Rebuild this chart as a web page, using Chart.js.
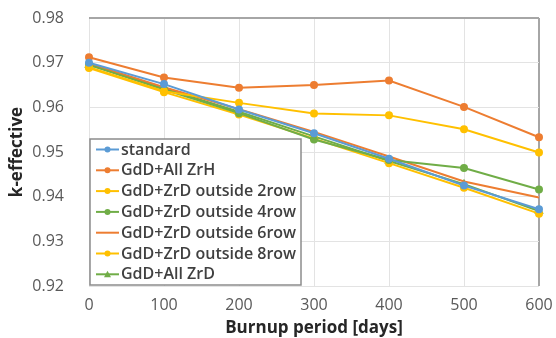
<!DOCTYPE html>
<html>
<head>
<meta charset="utf-8">
<script src="https://cdn.jsdelivr.net/npm/chart.js@4"></script>
<style>
  html, body { margin: 0; padding: 0; background: #fff; }
  #wrap { width: 556px; height: 338px; position: relative; }
</style>
</head>
<body>
<div id="wrap"><canvas id="keff"></canvas></div>
<script>
const days = [0, 100, 200, 300, 400, 500, 600];

const standard   = [0.9700, 0.9652, 0.9595, 0.9542, 0.9485, 0.9425, 0.9372];
const allZrH     = [0.9712, 0.9667, 0.9644, 0.9650, 0.9660, 0.9601, 0.9533];
const outside2   = [0.9690, 0.9636, 0.9610, 0.9586, 0.9582, 0.9551, 0.9499];
const outside4   = [0.9695, 0.9640, 0.9587, 0.9528, 0.9482, 0.9464, 0.9416];
const outside6   = [0.9698, 0.9645, 0.9596, 0.9545, 0.9490, 0.9434, 0.9398];
const outside8   = [0.9688, 0.9634, 0.9584, 0.9530, 0.9475, 0.9420, 0.9362];
const allZrD     = [0.9695, 0.9642, 0.9590, 0.9535, 0.9480, 0.9428, 0.9368];

const yTicks = [0.92, 0.93, 0.94, 0.95, 0.96, 0.97, 0.98];

function series(label, data, color, pointStyle, radius) {
  return {
    label: label,
    data: data,
    borderColor: color,
    backgroundColor: color,
    borderWidth: 2,
    pointStyle: pointStyle,
    pointRadius: radius,
    pointHoverRadius: radius,
    tension: 0,
  };
}

// legend boxed inside the plot, like the Excel original
const boxLegend = {
  id: "boxLegend",
  afterDraw(chart) {
    const ctx = chart.ctx;
    const x0 = 90, y0 = 139, w = 211, h = 146, row = 20.8;
    ctx.save();
    ctx.fillStyle = "#fff";
    ctx.fillRect(x0, y0, w, h);
    ctx.strokeStyle = "#8c8c8c";
    ctx.lineWidth = 1.5;
    ctx.strokeRect(x0, y0, w, h);
    chart.data.datasets.forEach((ds, i) => {
      const y = y0 + 10.5 + i * row;
      ctx.strokeStyle = ds.borderColor;
      ctx.lineWidth = 2;
      ctx.beginPath();
      ctx.moveTo(96, y);
      ctx.lineTo(119, y);
      ctx.stroke();
      if (ds.pointRadius > 0) {
        ctx.fillStyle = ds.backgroundColor;
        ctx.beginPath();
        if (ds.pointStyle === "triangle") {
          ctx.moveTo(107.5, y - 3.5);
          ctx.lineTo(111, y + 3);
          ctx.lineTo(104, y + 3);
        } else {
          ctx.arc(107.5, y, 3, 0, Math.PI * 2);
        }
        ctx.fill();
      }
      ctx.fillStyle = "#404040";
      ctx.font = "600 16px 'Open Sans'";
      ctx.textBaseline = "middle";
      ctx.fillText(ds.label, 121, y + 0.5);
    });
    ctx.restore();
  },
};

new Chart(document.getElementById("keff").getContext("2d"), {
  type: "line",
  data: {
    labels: days,
    datasets: [
      series("standard", standard, "#5b9bd5", "circle", 3),
      series("GdD+All ZrH", allZrH, "#ed7d31", "circle", 3),
      series("GdD+ZrD outside 2row", outside2, "#ffc000", "circle", 3),
      series("GdD+ZrD outside 4row", outside4, "#70ad47", "circle", 3),
      series("GdD+ZrD outside 6row", outside6, "#ed7d31", "circle", 0),
      series("GdD+ZrD outside 8row", outside8, "#ffc000", "circle", 3),
      series("GdD+All ZrD", allZrD, "#70ad47", "triangle", 3.5),
    ],
  },
  options: {
    responsive: true,
    maintainAspectRatio: false,
    animation: false,
    layout: { padding: { top: 18, right: 17, left: 0, bottom: 0 } },
    plugins: {
      legend: { display: false },
      tooltip: { enabled: false },
    },
    scales: {
      x: {
        afterFit(scale) {
          scale.height = 52;
          scale.paddingLeft = 0;
          scale.paddingRight = 0;
        },
        grid: {
          drawTicks: false,
          color: (c) => (c.index === days.length - 1 ? "#a6a6a6" : "#e3e3e3"),
          lineWidth: (c) => (c.index === days.length - 1 ? 2 : 1),
        },
        border: { display: false },
        ticks: {
          color: "#595959",
          font: { family: "'Open Sans'", size: 16 },
          padding: 10,
          maxRotation: 0,
        },
        title: {
          display: true,
          text: "Burnup period [days]",
          color: "#262626",
          font: { family: "'Open Sans'", size: 17, weight: "bold" },
          padding: { top: 0, bottom: 0 },
        },
      },
      y: {
        min: yTicks[0],
        max: yTicks[yTicks.length - 1],
        afterFit(scale) {
          scale.width = 89;
          scale.paddingTop = 0;
          scale.paddingBottom = 0;
        },
        afterBuildTicks(scale) { scale.ticks = yTicks.map((v) => ({ value: v })); },
        grid: {
          drawTicks: false,
          color: (c) => (c.tick && c.tick.value === 0.98 ? "#a6a6a6" : "#e3e3e3"),
          lineWidth: (c) => (c.tick && c.tick.value === 0.98 ? 2 : 1),
        },
        border: { display: false },
        ticks: {
          color: "#595959",
          font: { family: "'Open Sans'", size: 16 },
          padding: 25,
          callback: (v) => Number(v).toFixed(2),
        },
        title: {
          display: true,
          text: "k-effective",
          color: "#262626",
          font: { family: "'Open Sans'", size: 17, weight: "bold" },
          padding: { top: 7, bottom: 0 },
        },
      },
    },
  },
  plugins: [boxLegend],
});
</script>
</body>
</html>
